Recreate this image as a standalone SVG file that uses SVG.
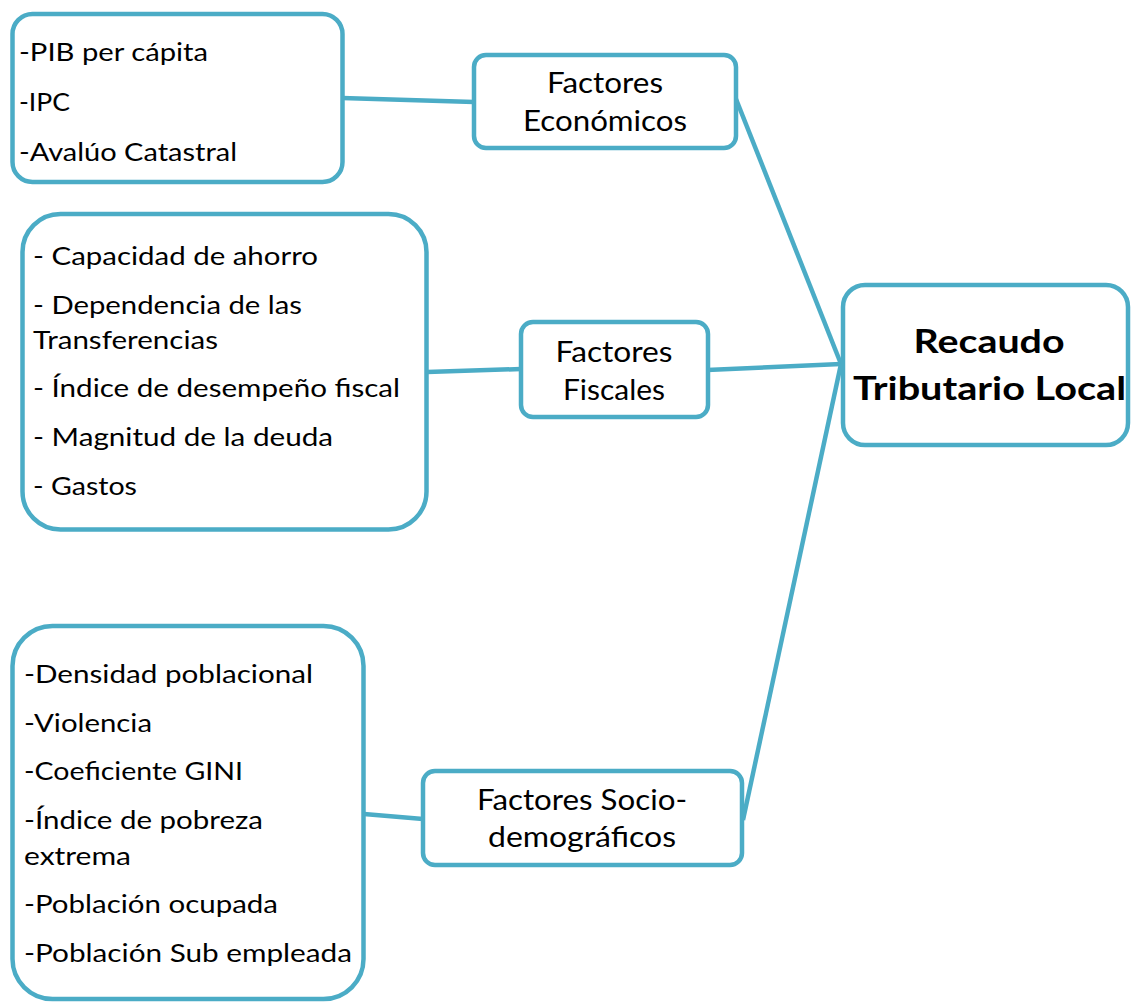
<svg xmlns="http://www.w3.org/2000/svg" width="1131" height="1002" viewBox="0 0 1131 1002">
<style>
.box{fill:#fff;stroke:#4BACC6;stroke-width:4.5}
.con{stroke:#4BACC6;stroke-width:4.5;fill:none;stroke-linecap:butt}
.t{font-family:Lato,"Open Sans","DejaVu Sans",sans-serif;font-size:24.5px;fill:#000}
.f{font-family:Lato,"Open Sans","DejaVu Sans",sans-serif;font-size:29px;fill:#000;text-anchor:middle}
.b{font-family:Lato,"Open Sans","DejaVu Sans",sans-serif;font-size:33px;font-weight:bold;fill:#000;text-anchor:middle}
</style>
<rect width="1131" height="1002" fill="#fff"/>
<g id="connectors">
<line class="con" x1="342" y1="98" x2="474" y2="102"/>
<line class="con" x1="736" y1="99" x2="841" y2="364"/>
<line class="con" x1="427" y1="372" x2="521" y2="369"/>
<line class="con" x1="707" y1="370" x2="841" y2="364"/>
<line class="con" x1="364" y1="814" x2="423" y2="819"/>
<line class="con" x1="743" y1="820" x2="841" y2="364"/>
</g>
<g id="list-economicos">
<rect class="box" x="12.5" y="14" width="330" height="168" rx="20"/>
<text class="t" x="19" y="61" textLength="189" lengthAdjust="spacingAndGlyphs">-PIB per cápita</text>
<text class="t" x="19" y="111" textLength="51" lengthAdjust="spacingAndGlyphs">-IPC</text>
<text class="t" x="19" y="161" textLength="218" lengthAdjust="spacingAndGlyphs">-Avalúo Catastral</text>
</g>
<g id="factores-economicos">
<rect class="box" x="474" y="55" width="262" height="93" rx="12"/>
<text class="f" x="605" y="93" textLength="116" lengthAdjust="spacingAndGlyphs">Factores</text>
<text class="f" x="605" y="131" textLength="164" lengthAdjust="spacingAndGlyphs">Económicos</text>
</g>
<g id="list-fiscales">
<rect class="box" x="22.5" y="214" width="404" height="315.5" rx="38"/>
<text class="t" x="33" y="265" textLength="285" lengthAdjust="spacingAndGlyphs">- Capacidad de ahorro</text>
<text class="t" x="33" y="314" textLength="269" lengthAdjust="spacingAndGlyphs">- Dependencia de las</text>
<text class="t" x="33" y="349" textLength="185" lengthAdjust="spacingAndGlyphs">Transferencias</text>
<text class="t" x="33" y="397" textLength="367" lengthAdjust="spacingAndGlyphs">- Índice de desempeño fiscal</text>
<text class="t" x="33" y="446" textLength="300" lengthAdjust="spacingAndGlyphs">- Magnitud de la deuda</text>
<text class="t" x="33" y="495" textLength="104" lengthAdjust="spacingAndGlyphs">- Gastos</text>
</g>
<g id="factores-fiscales">
<rect class="box" x="521" y="322" width="187" height="95" rx="12"/>
<text class="f" x="614" y="362" textLength="117" lengthAdjust="spacingAndGlyphs">Factores</text>
<text class="f" x="614" y="400" textLength="102" lengthAdjust="spacingAndGlyphs">Fiscales</text>
</g>
<g id="list-sociodemograficos">
<rect class="box" x="12.5" y="626" width="351" height="373" rx="40"/>
<text class="t" x="24" y="683" textLength="289" lengthAdjust="spacingAndGlyphs">-Densidad poblacional</text>
<text class="t" x="24" y="732" textLength="128" lengthAdjust="spacingAndGlyphs">-Violencia</text>
<text class="t" x="24" y="780" textLength="219" lengthAdjust="spacingAndGlyphs">-Coeficiente GINI</text>
<text class="t" x="24" y="829" textLength="239" lengthAdjust="spacingAndGlyphs">-Índice de pobreza</text>
<text class="t" x="24" y="865" textLength="107" lengthAdjust="spacingAndGlyphs">extrema</text>
<text class="t" x="24" y="913" textLength="254" lengthAdjust="spacingAndGlyphs">-Población ocupada</text>
<text class="t" x="24" y="962" textLength="328" lengthAdjust="spacingAndGlyphs">-Población Sub empleada</text>
</g>
<g id="factores-sociodemograficos">
<rect class="box" x="423" y="771" width="319" height="94" rx="12"/>
<text class="f" x="582" y="810" textLength="210" lengthAdjust="spacingAndGlyphs">Factores Socio-</text>
<text class="f" x="582" y="847" textLength="188" lengthAdjust="spacingAndGlyphs">demográficos</text>
</g>
<g id="recaudo-tributario-local">
<rect class="box" x="843" y="285" width="285" height="160" rx="22"/>
<text class="b" x="989" y="353" textLength="151" lengthAdjust="spacingAndGlyphs">Recaudo</text>
<text class="b" x="989.5" y="400" textLength="273" lengthAdjust="spacingAndGlyphs">Tributario Local</text>
</g>
</svg>
